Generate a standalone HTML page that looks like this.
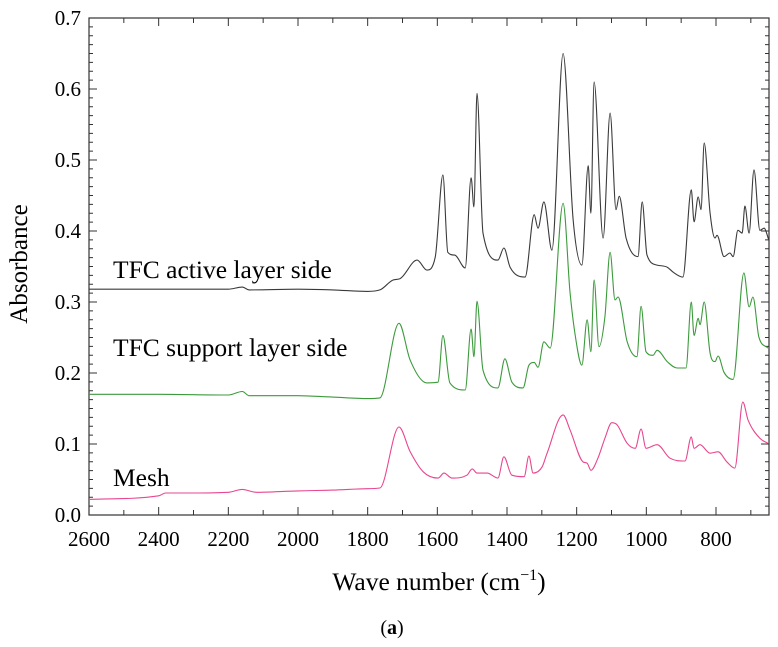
<!DOCTYPE html>
<html><head><meta charset="utf-8"><style>
html,body{margin:0;padding:0;background:#fff;}
svg, svg text{font-family:"Liberation Serif","DejaVu Serif",serif;}
svg{display:block;}
</style></head><body>
<svg id="chart" width="778" height="647" viewBox="0 0 778 647" xmlns="http://www.w3.org/2000/svg" font-family="Liberation Serif, DejaVu Serif, serif">
<g id="axes"></g>
<g id="series"></g>
<text x="113" y="278" font-size="25.5">TFC active layer side</text>
<text x="113" y="356" font-size="25.5">TFC support layer side</text>
<text x="113" y="486" font-size="25.5">Mesh</text>
<text transform="translate(27,264) rotate(-90)" text-anchor="middle" font-size="25">Absorbance</text>
<text x="439" y="590" text-anchor="middle" font-size="25.5">Wave number (cm<tspan font-size="16" dy="-10">−1</tspan><tspan dy="10">)</tspan></text>
<text x="392" y="634" text-anchor="middle" font-size="20">(<tspan font-weight="bold">a</tspan>)</text>
</svg>
<script>
const xTicks = [2600,2400,2200,2000,1800,1600,1400,1200,1000,800];
const yTicks = [0.0,0.1,0.2,0.3,0.4,0.5,0.6,0.7];
const activeWn = [2600,2400,2200,2160,2140,2000,1900,1800,1765,1727,1707,1658,1630,1606,1584,1570,1550,1520,1503,1495,1486,1469,1426,1409,1391,1348,1322,1311,1294,1271,1239,1210,1185,1167,1159,1150,1124,1104,1087,1078,1058,1024,1012,998,969,940,923,895,871,863,851,843,834,817,803,797,777,760,751,737,725,717,705,691,674,662,648];
const activeAbs = [0.318,0.318,0.318,0.321,0.317,0.318,0.317,0.315,0.317,0.331,0.333,0.359,0.345,0.363,0.479,0.37,0.366,0.348,0.475,0.434,0.594,0.397,0.359,0.376,0.349,0.335,0.423,0.404,0.441,0.373,0.65,0.415,0.352,0.492,0.425,0.61,0.39,0.566,0.43,0.449,0.39,0.364,0.441,0.366,0.352,0.349,0.342,0.335,0.458,0.413,0.448,0.43,0.524,0.425,0.39,0.394,0.364,0.369,0.364,0.401,0.397,0.435,0.397,0.486,0.401,0.404,0.387];
const supportWn = [2600,2400,2200,2160,2140,2000,1900,1800,1765,1710,1678,1630,1598,1584,1564,1520,1503,1495,1486,1469,1426,1406,1386,1354,1337,1322,1311,1294,1276,1239,1219,1205,1185,1170,1159,1150,1136,1119,1104,1090,1081,1055,1027,1015,1001,981,969,940,912,886,871,863,851,846,834,817,803,794,777,751,720,705,694,677,651];
const supportAbs = [0.170,0.170,0.169,0.174,0.168,0.168,0.166,0.164,0.165,0.27,0.218,0.186,0.187,0.253,0.186,0.176,0.262,0.223,0.301,0.204,0.179,0.22,0.187,0.179,0.211,0.215,0.208,0.244,0.235,0.439,0.314,0.256,0.211,0.275,0.23,0.331,0.237,0.279,0.37,0.303,0.307,0.244,0.223,0.294,0.23,0.225,0.232,0.216,0.207,0.207,0.3,0.253,0.277,0.268,0.3,0.228,0.216,0.224,0.201,0.191,0.341,0.293,0.307,0.251,0.235];
const meshWn = [2600,2400,2380,2300,2200,2160,2120,2000,1900,1800,1765,1710,1678,1641,1598,1581,1558,1515,1500,1486,1457,1426,1409,1386,1351,1337,1325,1299,1285,1239,1219,1182,1170,1159,1139,1119,1099,1084,1055,1032,1015,1001,969,932,889,871,863,846,817,794,769,746,723,708,674,651];
const meshAbs = [0.022,0.027,0.031,0.031,0.032,0.036,0.032,0.034,0.035,0.037,0.038,0.124,0.089,0.061,0.052,0.059,0.052,0.056,0.065,0.059,0.059,0.052,0.082,0.056,0.054,0.083,0.059,0.068,0.087,0.141,0.12,0.075,0.073,0.063,0.08,0.108,0.13,0.127,0.101,0.094,0.121,0.094,0.099,0.08,0.076,0.11,0.094,0.099,0.087,0.089,0.075,0.066,0.159,0.134,0.108,0.101];

const L=89,R=769,T=18,B=515;
const WN_L=2600, PXCM=(716-89)/1800;
const WN_R=WN_L-(R-L)/PXCM;
function xs(w){return L+(WN_L-w)*PXCM;}
function ys(a){return B-(a/0.7)*(B-T);}
const NS='http://www.w3.org/2000/svg';
const axes=document.getElementById('axes');
function mk(tag,attrs,parent){const e=document.createElementNS(NS,tag);for(const k in attrs)e.setAttribute(k,attrs[k]);parent.appendChild(e);return e;}
const frame=mk('rect',{x:L,y:T,width:R-L,height:B-T,fill:'none',stroke:'#333','stroke-width':1.2},axes);


let tp='';
for(let w=2600;w>WN_R;w-=100){const x=xs(w);const len=(w%200===0)?8:5;tp+=`M${x},${B}v${-len}M${x},${T}v${len}`;}
for(let i=0;i<=56;i++){const a=i*0.0125;const y=ys(a);const len=(i%8===0)?8:4;tp+=`M${L},${y}h${len}M${R},${y}h${-len}`;}
const ticks=mk('path',{d:tp,stroke:'#333','stroke-width':1,fill:'none'},axes);


xTicks.forEach(w=>{const t=mk('text',{x:xs(w),y:546,'text-anchor':'middle','font-size':21},axes);t.textContent=String(w);

});
yTicks.forEach(a=>{const t=mk('text',{x:81,y:ys(a)+7,'text-anchor':'end','font-size':21},axes);t.textContent=a.toFixed(1);

});
const ser=document.getElementById('series');
function monoPath(px,py){
  const n=px.length;const d=[],m=new Array(n);
  for(let i=0;i<n-1;i++)d.push((py[i+1]-py[i])/(px[i+1]-px[i]));
  m[0]=d[0];m[n-1]=d[n-2];
  for(let i=1;i<n-1;i++){m[i]=(d[i-1]*d[i]<=0)?0:(d[i-1]+d[i])/2;}
  for(let i=0;i<n-1;i++){if(d[i]===0){m[i]=0;m[i+1]=0;continue;}
    const a=m[i]/d[i],b=m[i+1]/d[i],s=a*a+b*b;if(s>9){const t=3/Math.sqrt(s);m[i]=t*a*d[i];m[i+1]=t*b*d[i];}}
  let p='M'+px[0].toFixed(1)+','+py[0].toFixed(1);
  for(let i=0;i<n-1;i++){const h=(px[i+1]-px[i])/3;
    p+='C'+(px[i]+h).toFixed(1)+','+(py[i]+m[i]*h).toFixed(1)+' '+(px[i+1]-h).toFixed(1)+','+(py[i+1]-m[i+1]*h).toFixed(1)+' '+px[i+1].toFixed(1)+','+py[i+1].toFixed(1);}
  return p;}
function line(wn,ab,color,name){
const p=mk('path',{d:monoPath(wn.map(xs),ab.map(ys)),stroke:color,'stroke-width':1.1,fill:'none','stroke-linejoin':'round'},ser);

}
line(activeWn,activeAbs,'#3a3a3a','series-tfc-active');
line(supportWn,supportAbs,'#3c9a3c','series-tfc-support');
line(meshWn,meshAbs,'#e8468f','series-mesh');
</script>
</body></html>
